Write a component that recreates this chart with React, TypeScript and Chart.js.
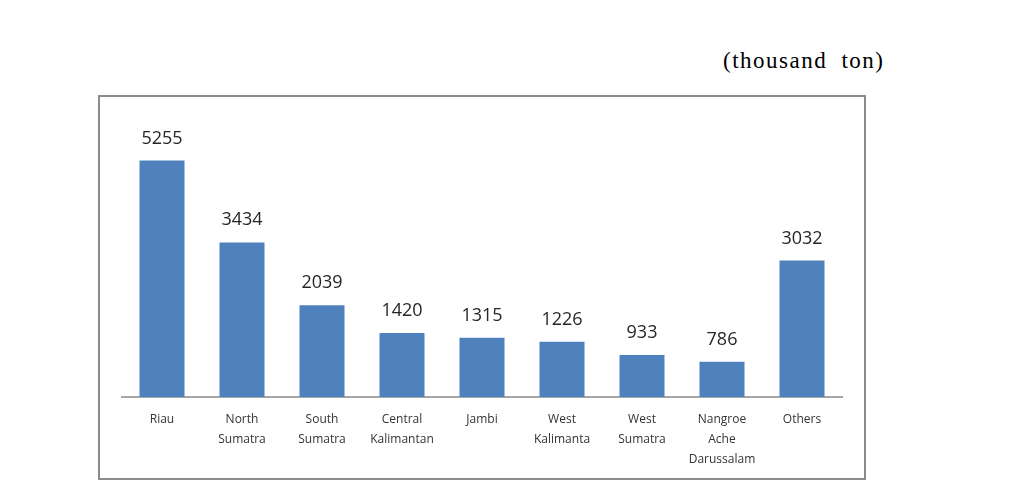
import React, { useEffect, useRef } from "react";
import { Chart, registerables } from "chart.js";

Chart.register(...registerables);

const categories: (string | string[])[] = [
  "Riau",
  ["North", "Sumatra"],
  ["South", "Sumatra"],
  ["Central", "Kalimantan"],
  "Jambi",
  ["West", "Kalimanta"],
  ["West", "Sumatra"],
  ["Nangroe", "Ache", "Darussalam"],
  "Others",
];
const production: number[] = [5255, 3434, 2039, 1420, 1315, 1226, 933, 786, 3032];
const unitLabel = "(thousand ton)";

const valueLabels = {
  id: "valueLabels",
  afterDatasetsDraw(chart: any) {
    const ctx = chart.ctx;
    const meta = chart.getDatasetMeta(0);
    ctx.save();
    ctx.font = '18px "Open Sans"';
    ctx.fillStyle = "#262626";
    ctx.textAlign = "center";
    ctx.textBaseline = "alphabetic";
    meta.data.forEach((bar: any, i: number) => {
      ctx.fillText(String(production[i]), bar.x, bar.y - 17);
    });
    ctx.restore();
  },
};

export default function App() {
  const ref = useRef<HTMLCanvasElement>(null);
  useEffect(() => {
    if (!ref.current) return;
    const chart = new Chart(ref.current, {
      type: "bar",
      data: {
        labels: categories,
        datasets: [
          {
            data: production,
            backgroundColor: "#4F81BD",
            borderWidth: 0,
            barPercentage: 0.5625,
            categoryPercentage: 1,
          },
        ],
      },
      options: {
        animation: false,
        responsive: false,
        maintainAspectRatio: false,
        layout: { padding: { left: 22, right: 22, top: 30, bottom: 0 } },
        plugins: { legend: { display: false }, tooltip: { enabled: false } },
        scales: {
          x: {
            grid: { display: false, drawTicks: false },
            border: { display: true, color: "#a6a6a6", width: 2 },
            ticks: {
              color: "#333333",
              font: { family: "Open Sans", size: 12, lineHeight: 1.65 },
              padding: 13,
              maxRotation: 0,
              autoSkip: false,
            },
            afterFit: (scale: any) => {
              scale.height = 81;
            },
          },
          y: {
            display: false,
            min: 0,
            max: 6000,
          },
        },
      },
      plugins: [valueLabels],
    });
    return () => chart.destroy();
  }, []);

  return (
    <div style={{ position: "fixed", left: 0, top: 0, width: 1009, height: 497, background: "#fff" }}>
      <div
        style={{
          position: "absolute",
          left: 723,
          top: 46,
          fontFamily: '"Liberation Serif", serif',
          fontSize: 23,
          letterSpacing: 1.5,
          wordSpacing: 7,
          color: "#000",
          whiteSpace: "nowrap",
          lineHeight: "30px",
        }}
      >
        {unitLabel}
      </div>
      <div
        style={{
          position: "absolute",
          left: 98,
          top: 95,
          width: 764,
          height: 381,
          border: "2px solid #8c8c8c",
        }}
      >
        <canvas ref={ref} width={764} height={381} style={{ display: "block" }} />
      </div>
    </div>
  );
}
